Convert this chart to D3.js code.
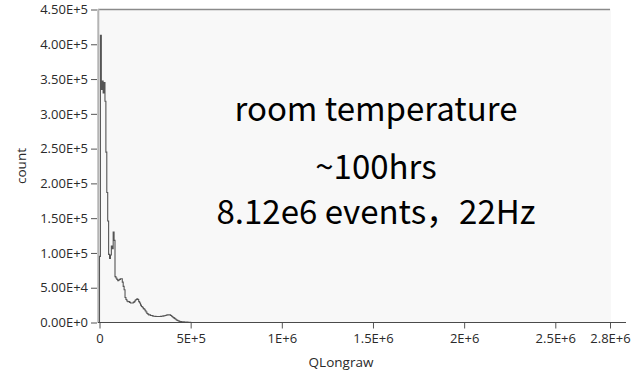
<!DOCTYPE html>
<html>
<head>
<meta charset="utf-8">
<script src="https://cdn.jsdelivr.net/npm/d3@7"></script>
<style>
  html, body { margin: 0; padding: 0; background: #ffffff; }
  svg { display: block; }
</style>
</head>
<body>
<svg id="chart" width="637" height="374"></svg>
<script>
// Histogram of QLongraw, bin width 5000
const binWidth = 5000;
const counts = [
  95000, 413000, 335000, 347000, 330000, 345000, 318000, 245000, 187000, 146000,
  98000, 92000, 97000, 110000, 106000, 130000, 118000, 66000, 64000, 62000,
  60000, 61000, 62000, 63000, 63000, 58000, 52000, 47000, 36000, 33000,
  31000, 30000, 30000, 29000, 28000, 28000, 28000, 29000, 30000, 32000,
  33000, 34000, 33000, 30000, 28000, 25000, 23000, 22000, 20000, 19000,
  17000, 15000, 13000, 12000, 11000, 11000, 10000, 10000, 9500, 9000,
  9000, 8800, 8600, 8600, 8600, 8600, 8600, 8800, 9000, 9200,
  9500, 9800, 10000, 10500, 11000, 11000, 11200, 11000, 10000, 9000,
  8000, 7000, 6000, 5000, 4000, 3000, 2500, 2000, 1500, 1200,
  1000, 1000, 900, 800, 700, 600, 500, 400, 300, 200
];

const yTicks = [0, 50000, 100000, 150000, 200000, 250000, 300000, 350000, 400000, 450000];
const xTicks = [0, 500000, 1000000, 1500000, 2000000, 2500000, 2800000];
const xTickLabels = ["0", "5E+5", "1E+6", "1.5E+6", "2E+6", "2.5E+6", "2.8E+6"];

const xTitle = "QLongraw";
const yTitle = "count";
const notes = ["room temperature", "~100hrs", "8.12e6 events\uff0c22Hz"];

const svg = d3.select("#chart");
const tickFont = "'Open Sans', 'Noto Sans', sans-serif";

const x = d3.scaleLinear().domain([0, 2800000]).range([99.5, 610]);
const y = d3.scaleLinear().domain([0, 450000]).range([322.5, 9.5]);

// plot area
svg.append("rect")
  .attr("x", 98).attr("y", 9)
  .attr("width", 513).attr("height", 313.5)
  .attr("fill", "#f8f8f8");

// top frame line
svg.append("line")
  .attr("x1", 98).attr("x2", 610).attr("y1", 9.5).attr("y2", 9.5)
  .attr("stroke", "#8a8a8a").attr("stroke-width", 1.3);

// left frame line
svg.append("line")
  .attr("x1", 98.3).attr("x2", 98.3).attr("y1", 9).attr("y2", 323)
  .attr("stroke", "#b4b4b4").attr("stroke-width", 2);

// histogram trace
const pts = [[0, 0]].concat(counts.map((c, i) => [i * binWidth, c]));
pts.push([counts.length * binWidth, counts[counts.length - 1]]);
pts.push([counts.length * binWidth, 0]);
svg.append("path")
  .datum(pts)
  .attr("fill", "none")
  .attr("stroke", "#555555")
  .attr("stroke-width", 1.1)
  .attr("d", d3.line().x(d => x(d[0])).y(d => y(d[1])).curve(d3.curveStepAfter));

// y axis
const yAxis = d3.axisLeft(y)
  .tickValues(yTicks)
  .tickSize(6)
  .tickPadding(3)
  .tickFormat(d => d.toExponential(2).replace("e", "E"));
const gy = svg.append("g").attr("transform", "translate(97,0)").call(yAxis);
gy.select(".domain").remove();
gy.selectAll(".tick line").attr("stroke", "#555").attr("stroke-width", 1);
gy.selectAll(".tick text")
  .attr("fill", "#2a2a2a")
  .style("font-family", tickFont)
  .style("font-size", "13px");

// x axis
const xAxis = d3.axisBottom(x)
  .tickValues(xTicks)
  .tickSize(6)
  .tickPadding(5)
  .tickFormat((d, i) => xTickLabels[i]);
const gx = svg.append("g").attr("transform", "translate(0,322.5)").call(xAxis);
gx.select(".domain").remove();
gx.selectAll(".tick line").attr("stroke", "#555").attr("stroke-width", 1);
gx.selectAll(".tick text")
  .attr("fill", "#2a2a2a")
  .style("font-family", tickFont)
  .style("font-size", "13px");

// x axis base line
svg.append("line")
  .attr("x1", 98).attr("x2", 626).attr("y1", 322.5).attr("y2", 322.5)
  .attr("stroke", "#4a4a4a").attr("stroke-width", 1.2);

// axis titles
svg.append("text")
  .attr("x", 341).attr("y", 367)
  .attr("text-anchor", "middle")
  .attr("fill", "#2a2a2a")
  .style("font-family", tickFont)
  .style("font-size", "13.5px")
  .text(xTitle);

svg.append("text")
  .attr("transform", "translate(26,166) rotate(-90)")
  .attr("text-anchor", "middle")
  .attr("fill", "#2a2a2a")
  .style("font-family", tickFont)
  .style("font-size", "13.5px")
  .text(yTitle);

// annotation
const noteY = [121, 179, 224];
svg.selectAll("text.note")
  .data(notes)
  .enter().append("text")
  .attr("class", "note")
  .attr("x", 376)
  .attr("y", (d, i) => noteY[i])
  .attr("text-anchor", "middle")
  .attr("fill", "#000")
  .style("font-family", "'Noto Sans CJK SC', 'Noto Sans', sans-serif")
  .style("font-size", "33px")
  .style("white-space", "pre")
  .text(d => d);
</script>
</body>
</html>
